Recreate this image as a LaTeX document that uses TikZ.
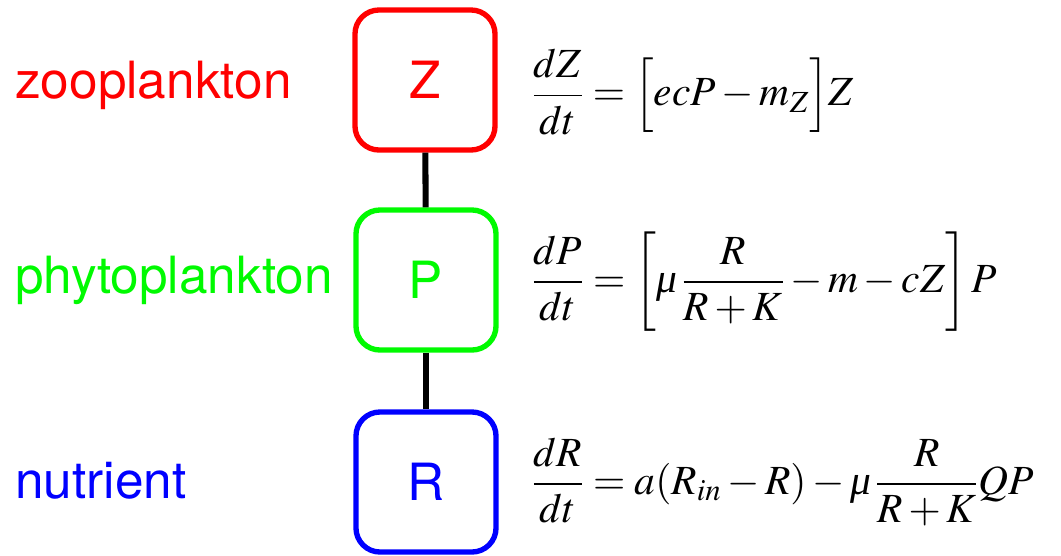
\documentclass[tikz,border=0pt]{standalone}
\usepackage{mathptmx}
\usepackage[no-math]{fontspec}
\newfontfamily\helv{TeX Gyre Heros}
\newfontfamily\timesfam{Liberation Serif}
\newcommand{\itmu}{\mbox{\timesfam\itshape μ}\,}

\definecolor{zoored}{RGB}{255,0,0}
\definecolor{phytogreen}{RGB}{0,250,0}
\definecolor{nutblue}{RGB}{0,0,255}

\tikzset{
    compartment/.style={draw=#1, text=#1, rounded corners=0.6cm, line width=3.8pt,
        minimum width=3.5cm, minimum height=3.5cm, inner sep=0pt,
        font=\helv\fontsize{36.5}{40}\selectfont},
    species/.style={text=#1, anchor=base west, inner sep=0pt,
        font=\helv\fontsize{36.5}{40}\selectfont},
    rateeq/.style={anchor=west, inner sep=0pt, font=\fontsize{29.5}{34}\selectfont},
    link/.style={line width=4.3pt, black}
}

\begin{document}
\begin{tikzpicture}[x=0.025cm, y=-0.025cm]

    \useasboundingbox (0,0) rectangle (1061,555);

    % Draw compartments
    \node [compartment=zoored]     (Z) at (425,80)  {Z};
    \node [compartment=phytogreen] (P) at (426,280) {P};
    \node [compartment=nutblue]    (R) at (426,482) {R};

    % Draw links
    \draw [link] (Z) -- (P);
    \draw [link] (P) -- (R);

    % Draw names
    \node [species=zoored]     (nameZ) at (15,98)  {zooplankton};
    \node [species=phytogreen] (nameP) at (15,293) {phytoplankton};
    \node [species=nutblue]    (nameR) at (15,498) {nutrient};

    % Draw equations
    \node [rateeq] (eqZ) at (532,92)
        {$\displaystyle \frac{dZ}{dt}=\Bigl[ecP-m_Z\Bigr]Z$};
    \node [rateeq] (eqP) at (532,282)
        {$\displaystyle \frac{dP}{dt}=\left[\itmu\frac{R}{R+K}-m-cZ\right]P$};
    \node [rateeq] (eqR) at (532,482)
        {$\displaystyle \frac{dR}{dt}=a(R_{in}-R)-\itmu\frac{R}{R+K}QP$};

\end{tikzpicture}
\end{document}
